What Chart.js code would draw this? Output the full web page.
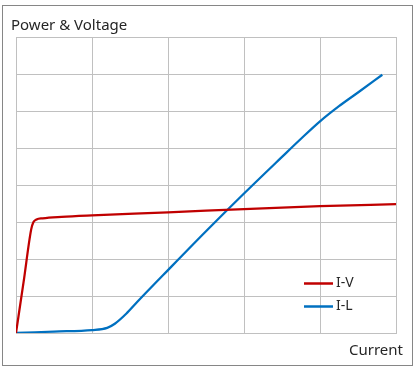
<!DOCTYPE html>
<html>
<head>
<meta charset="utf-8">
<script src="https://cdn.jsdelivr.net/npm/chart.js@4"></script>
<style>
html,body{margin:0;padding:0;background:#fff;}
#wrap{position:relative;width:418px;height:371px;}
</style>
</head>
<body>
<div id="wrap"><canvas id="c"></canvas></div>
<script>
const chartTitle = "Power & Voltage";
const xAxisTitle = "Current";
const seriesNames = ["I-V", "I-L"];
const seriesColors = ["#C00000", "#0070C0"];
const currentIV = [0, 0.1, 0.2, 0.23, 0.27, 0.35, 0.6, 1, 2, 3, 4, 5];
const voltage   = [0, 1.38, 2.8, 3.0, 3.07, 3.1, 3.14, 3.18, 3.26, 3.35, 3.43, 3.48];
const currentIL = [0, 0.5, 1.0, 1.2, 1.3, 1.45, 1.6, 2, 2.5, 3, 3.5, 3.75, 4, 4.25, 4.5, 4.82];
const power     = [0, 0.04, 0.08, 0.14, 0.25, 0.52, 0.85, 1.7, 2.75, 3.77, 4.76, 5.25, 5.72, 6.13, 6.5, 6.98];
const xMax = 5, yMax = 8;

const toPts = (xs, ys) => xs.map((x, i) => ({x: x, y: ys[i]}));

const FONT = '"Noto Sans", sans-serif';
const decor = {
  id: 'decor',
  beforeDraw(chart) {
    const ctx = chart.ctx;
    ctx.save();
    ctx.strokeStyle = '#868686';
    ctx.lineWidth = 1;
    ctx.strokeRect(2.5, 5.5, 410, 360);
    ctx.restore();
  },
  afterDatasetsDraw(chart) {
    const ctx = chart.ctx;
    ctx.save();
    ctx.fillStyle = '#262626';
    ctx.textBaseline = 'alphabetic';
    ctx.font = '15px ' + FONT;
    ctx.textAlign = 'left';
    ctx.fillText(chartTitle, 11, 30);
    ctx.textAlign = 'right';
    ctx.fillText(xAxisTitle, 403, 355);
    // legend
    ctx.font = '14px ' + FONT;
    ctx.textAlign = 'left';
    ctx.textBaseline = 'middle';
    chart.data.datasets.forEach((ds, i) => {
      const y = 283.5 + i * 23;
      ctx.strokeStyle = ds.borderColor;
      ctx.lineWidth = 2.5;
      ctx.beginPath();
      ctx.moveTo(304, y);
      ctx.lineTo(333, y);
      ctx.stroke();
      ctx.fillText(ds.label, 336, y);
    });
    ctx.restore();
  }
};

new Chart(document.getElementById('c'), {
  type: 'scatter',
  data: {
    datasets: [
      {label: seriesNames[0], data: toPts(currentIV, voltage), borderColor: seriesColors[0], backgroundColor: seriesColors[0]},
      {label: seriesNames[1], data: toPts(currentIL, power), borderColor: seriesColors[1], backgroundColor: seriesColors[1]}
    ].map(d => Object.assign(d, {showLine: true, pointRadius: 0, borderWidth: 2.25, cubicInterpolationMode: 'monotone', fill: false}))
  },
  options: {
    responsive: true,
    maintainAspectRatio: false,
    animation: false,
    layout: {padding: {left: 16, top: 37, right: 22, bottom: 38}},
    plugins: {legend: {display: false}, tooltip: {enabled: false}, title: {display: false}},
    scales: {
      x: {type: 'linear', min: 0, max: xMax,
          ticks: {display: false, stepSize: 1},
          grid: {color: '#C0C0C0', drawTicks: false, lineWidth: 1},
          border: {color: '#C0C0C0'}},
      y: {type: 'linear', min: 0, max: yMax,
          ticks: {display: false, stepSize: 1},
          grid: {color: '#C0C0C0', drawTicks: false, lineWidth: 1},
          border: {color: '#C0C0C0'}}
    }
  },
  plugins: [decor]
});
</script>
</body>
</html>
